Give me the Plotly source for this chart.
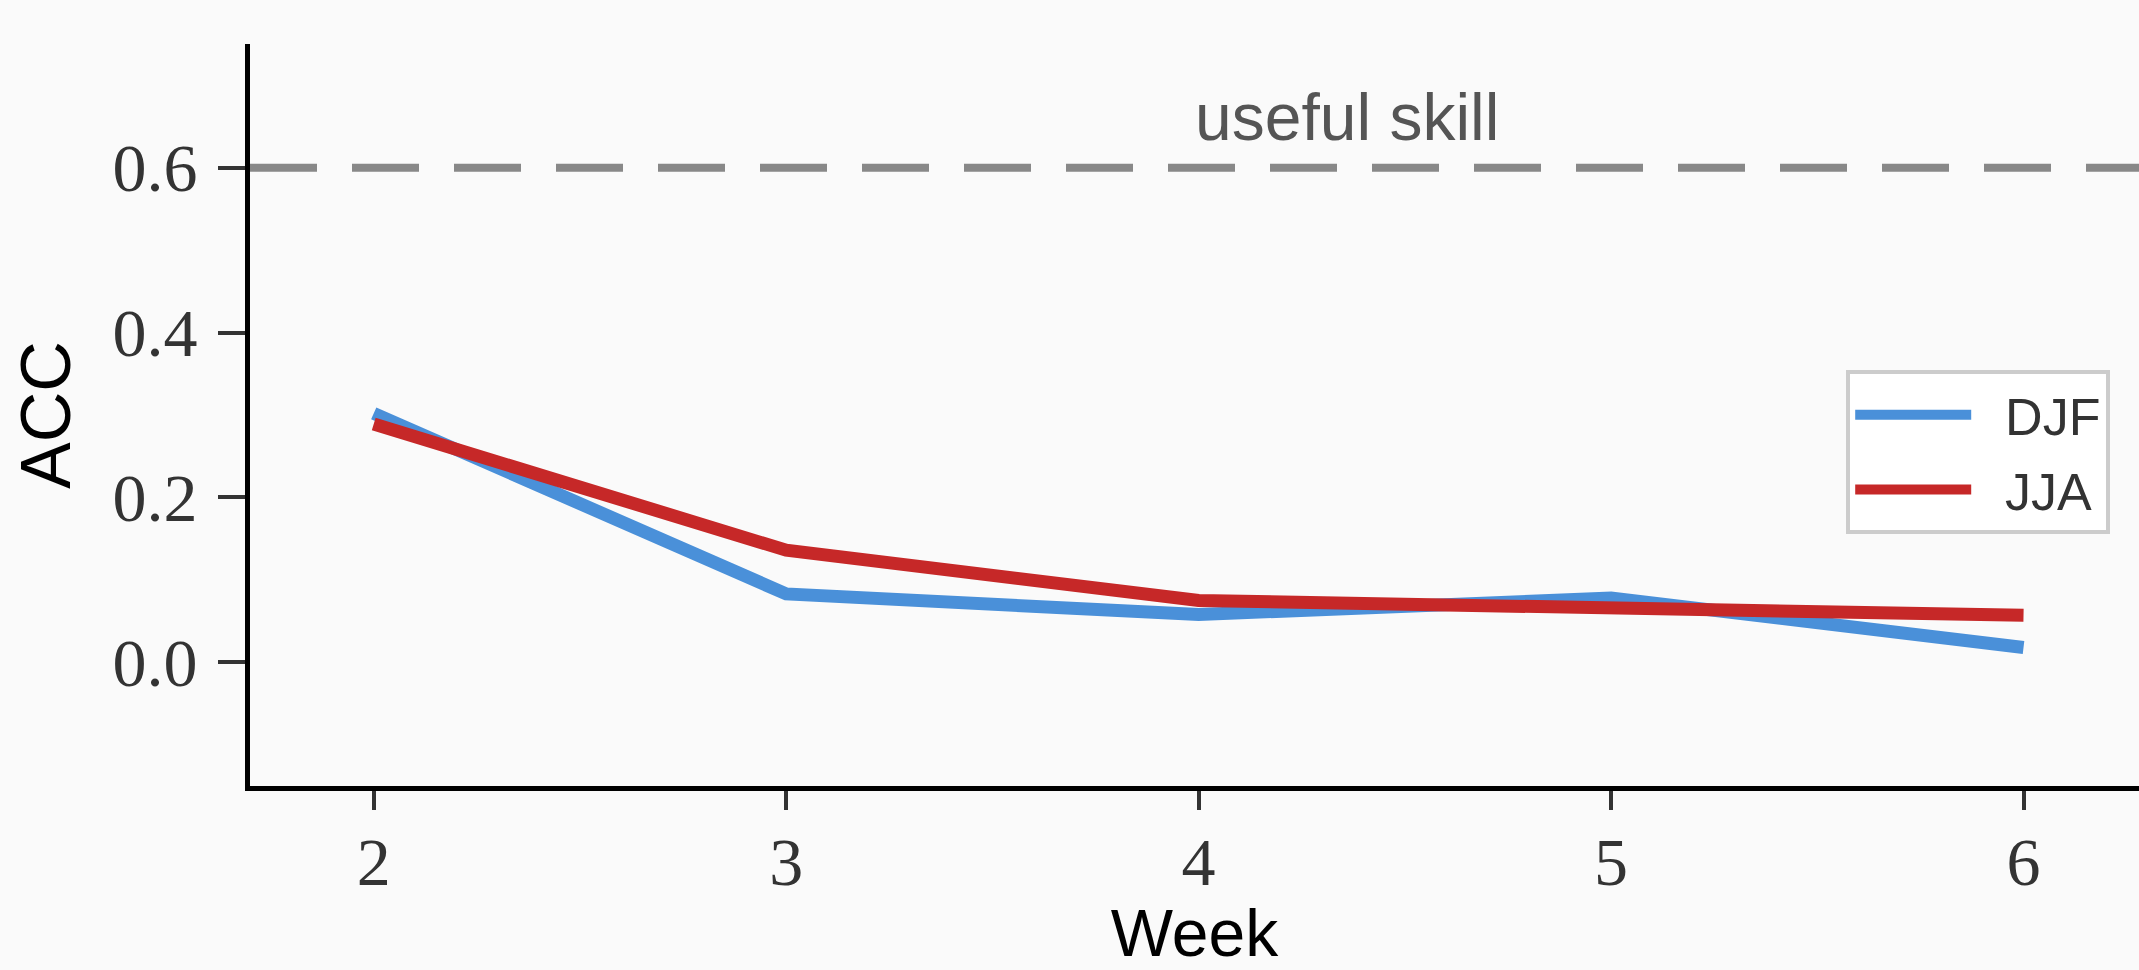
import plotly.graph_objects as go

weeks = [2, 3, 4, 5, 6]
djf_acc = [0.302, 0.083, 0.058, 0.078, 0.018]
jja_acc = [0.289, 0.136, 0.075, 0.067, 0.057]
series_names = ["DJF", "JJA"]
series_colors = ["#4a90d9", "#c62828"]
useful_skill = 0.6
y_ticks = [0.0, 0.2, 0.4, 0.6]
y_tick_text = ["0.0", "0.2", "0.4", "0.6"]

BG = "#fafafa"
W, H = 2139, 970

fig = go.Figure()
for name, vals, col in zip(series_names, [djf_acc, jja_acc], series_colors):
    fig.add_trace(go.Scatter(x=weeks, y=vals, mode="lines",
                             name="&nbsp;&nbsp;" + name, legendgroup=name,
                             line=dict(color=col, width=13)))

fig.add_hline(y=useful_skill, line=dict(color="#888888", width=8, dash="67px,35px"),
              layer="below")
fig.add_annotation(x=4.36, y=useful_skill, xref="x", yref="y", text="useful skill",
                   showarrow=False, yanchor="bottom", yshift=12,
                   font=dict(family="Liberation Sans", size=66, color="#555555"))

fig.update_layout(
    width=W, height=H,
    paper_bgcolor=BG, plot_bgcolor=BG,
    margin=dict(l=250, r=0, t=44, b=184, autoexpand=False),
    showlegend=True,
    legend=dict(x=0.845, y=0.56, xanchor="left", yanchor="top",
                bgcolor="white", bordercolor="#cccccc", borderwidth=4,
                font=dict(family="Liberation Sans", size=52, color="#333333"),
                itemwidth=116, tracegroupgap=4),
)
fig.update_xaxes(range=[1.7, 6.28], tickvals=weeks, ticktext=[str(w) for w in weeks],
                 automargin=False,
                 showgrid=False, zeroline=False, showline=True, linecolor="black",
                 linewidth=5, ticks="outside", ticklen=19, tickwidth=4, tickcolor="#333333",
                 ticklabelstandoff=-7,
                 tickfont=dict(family="Liberation Serif", size=68, color="#333333"),
                 title=dict(text="Week", standoff=50,
                            font=dict(family="Liberation Sans", size=66, color="black")))
fig.update_yaxes(range=[-0.15, 0.75], tickvals=y_ticks, ticktext=y_tick_text,
                 automargin=False,
                 showgrid=False, zeroline=False, showline=True, linecolor="black",
                 linewidth=5, ticks="outside", ticklen=27, tickwidth=4, tickcolor="#333333",
                 ticklabelstandoff=7,
                 tickfont=dict(family="Liberation Serif", size=68, color="#333333"),
                 title=dict(text="ACC", standoff=20,
                            font=dict(family="Liberation Sans", size=70, color="black")))

fig.write_html("out.html",
               config={"displayModeBar": False},
               post_script="document.body.style.margin='0';"
                           "document.body.style.background='" + BG + "';")
